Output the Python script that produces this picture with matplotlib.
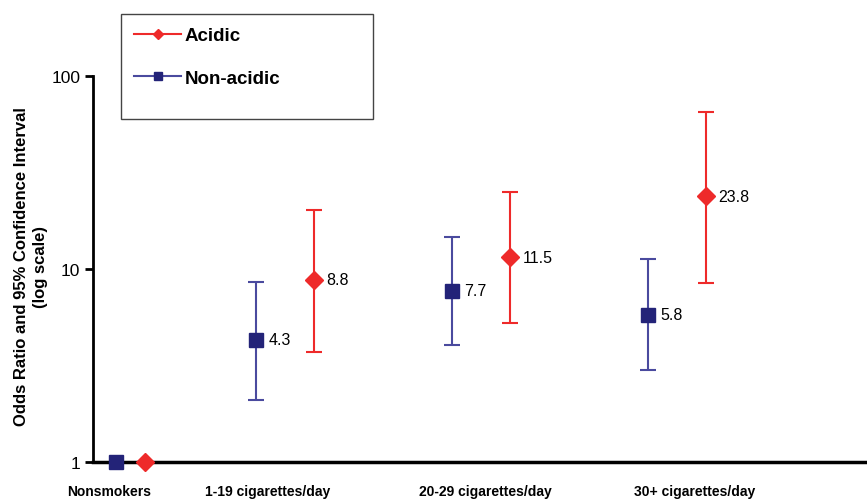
import matplotlib.pyplot as plt
import matplotlib.patches as patches
from matplotlib.lines import Line2D

# data
groups = ['Nonsmokers', '1-19 cigarettes/day', '20-29 cigarettes/day', '30+ cigarettes/day']
acidic_or = [1.0, 8.8, 11.5, 23.8]
acidic_lo = [1.0, 3.7, 5.25, 8.5]
acidic_hi = [1.0, 20.2, 25.1, 65.0]
nonacid_or = [1.0, 4.3, 7.7, 5.8]
nonacid_lo = [1.0, 2.1, 4.05, 3.0]
nonacid_hi = [1.0, 8.6, 14.6, 11.3]
labels_acidic = ['', '8.8', '11.5', '23.8']
labels_nonacid = ['', '4.3', '7.7', '5.8']

# layout
xpos = [0.21, 1.0, 2.0, 3.0]
offsets = [0.074, 0.148, 0.148, 0.148]
label_x = [0.10, 0.91, 2.02, 3.09]

red = '#EE2A2A'
navy = '#232378'
blue = '#4A4A9E'
sans = ['Liberation Sans', 'DejaVu Sans']

fig = plt.figure(figsize=(8.67, 5.02), dpi=100)
ax = fig.add_axes([93 / 867, 39 / 502, 1 - 93 / 867, 386 / 502])
ax.set_yscale('log')
ax.set_ylim(1, 100)
ax.set_xlim(0.02, 3.97)

for i in range(len(groups)):
    xa = xpos[i] + offsets[i]
    xn = xpos[i] - offsets[i]
    if i > 0:
        ax.errorbar(xn, nonacid_or[i],
                    yerr=[[nonacid_or[i] - nonacid_lo[i]], [nonacid_hi[i] - nonacid_or[i]]],
                    fmt='none', ecolor=blue, elinewidth=1.5, capsize=6, capthick=1.5)
        ax.errorbar(xa, acidic_or[i],
                    yerr=[[acidic_or[i] - acidic_lo[i]], [acidic_hi[i] - acidic_or[i]]],
                    fmt='none', ecolor=red, elinewidth=1.5, capsize=6, capthick=1.5)
    ax.plot(xn, nonacid_or[i], 's', color=navy, markersize=9.5, clip_on=False, zorder=5)
    ax.plot(xa, acidic_or[i], 'D', color=red, markersize=9, clip_on=False, zorder=5)
    if labels_nonacid[i]:
        ax.annotate(labels_nonacid[i], (xn, nonacid_or[i]), xytext=(9, 0),
                    textcoords='offset points', va='center', fontsize=11.5, family=sans)
        ax.annotate(labels_acidic[i], (xa, acidic_or[i]), xytext=(9, 0),
                    textcoords='offset points', va='center', fontsize=11.5, family=sans)

# axes styling
ax.spines['top'].set_visible(False)
ax.spines['right'].set_visible(False)
ax.spines['left'].set_linewidth(2)
ax.spines['bottom'].set_linewidth(2.5)
ax.set_yticks([1, 10, 100])
ax.set_yticklabels(['1', '10', '100'], fontsize=12.5, family=sans)
ax.yaxis.set_minor_locator(plt.NullLocator())
ax.tick_params(axis='y', length=6, width=2, pad=3)
ax.set_xticks([])

for lx, g in zip(label_x, groups):
    ax.text(lx, -0.058, g, transform=ax.get_xaxis_transform(), ha='center', va='top',
            fontsize=10, fontweight='bold',
            family=['Liberation Sans Narrow', 'Liberation Sans', 'DejaVu Sans'])

fig.text(22 / 867, 1 - 267 / 502, 'Odds Ratio and 95% Confidence Interval', rotation=90,
         ha='center', va='center', fontsize=12, fontweight='bold', family=sans)
fig.text(40 / 867, 1 - 267 / 502, '(log scale)', rotation=90,
         ha='center', va='center', fontsize=12, fontweight='bold', family=sans)

# legend box
box = patches.Rectangle((121 / 867, 1 - 120 / 502), 252 / 867, 105 / 502,
                        transform=fig.transFigure, facecolor='white',
                        edgecolor='#444444', linewidth=1, zorder=10)
fig.add_artist(box)
handles = [Line2D([], [], color=red, marker='D', markersize=5),
           Line2D([], [], color=blue, marker='s', markersize=6, markerfacecolor=navy,
                  markeredgecolor=navy)]
leg = fig.legend(handles, ['Acidic', 'Non-acidic'], loc='upper left',
                 bbox_to_anchor=(121 / 867, 1 - 15 / 502), frameon=False,
                 prop={'family': sans, 'weight': 'bold', 'size': 13.5},
                 labelspacing=1.35, handlelength=2.5, handletextpad=0.2, borderpad=0.2)
leg.set_zorder(11)

fig.savefig('out.png', dpi=100)
